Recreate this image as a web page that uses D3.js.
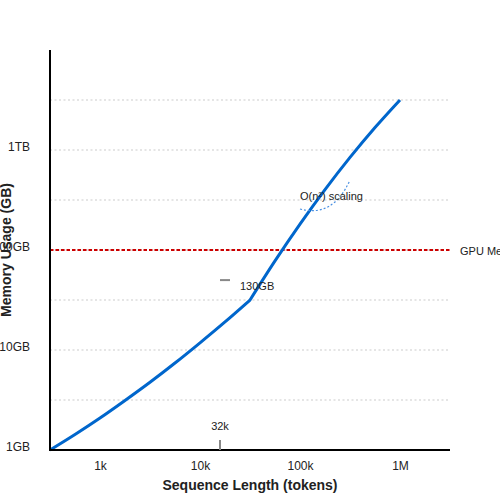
<!DOCTYPE html>
<html>
<head>
<meta charset="utf-8">
<script src="https://cdn.jsdelivr.net/npm/d3@7"></script>
<style>
  body { margin: 0; background: #fff; }
  svg { font-family: "Liberation Sans", Arial, sans-serif; }
</style>
</head>
<body>
<svg id="chart" width="500" height="500"></svg>
<script>
// Data (sequence length in tokens, memory in GB)
const seqLowTokens = [316, 562, 1000, 1778, 3162, 5623, 10000, 17783, 31623];
const memLowGB     = [1, 1.43, 2.09, 3.13, 4.76, 7.41, 11.8, 19.1, 31.6];
const seqHighTokens = [31623, 56234, 100000, 177828, 316228, 562341, 1000000];
const memHighGB     = [31.6, 77.8, 181.6, 401.8, 843, 1679, 3170];
const xTickValues = [1000, 10000, 100000, 1000000];
const xTickLabels = ["1k", "10k", "100k", "1M"];
const yTickValues = [1, 10, 100, 1000];
const yTickLabels = ["1GB", "10GB", "100GB", "1TB"];
const gridValues = [3.162, 10, 31.62, 100, 316.2, 1000, 3162];
const gpuLimitGB = 100;
const gpuLabel = "GPU Memory Limit";
const marker32kTokens = 15850;
const marker32kLabel = "32k";
const marker130Tokens = [15850, 19950];
const marker130GB = 50;
const marker130Label = "130GB";
const scalingLabel = "O(n²) scaling";

const svg = d3.select("#chart");
const x = d3.scaleLog().domain([316.2, 3162000]).range([50, 450]);
const y = d3.scaleLog().domain([1, 10000]).range([450, 50]);

// gridlines
svg.append("g").selectAll("line").data(gridValues).join("line")
  .attr("x1", 50).attr("x2", 448)
  .attr("y1", d => y(d)).attr("y2", d => y(d))
  .attr("stroke", "#dddddd").attr("stroke-width", 1.5)
  .attr("stroke-dasharray", "2,2.5");

// GPU limit
svg.append("line")
  .attr("x1", 50).attr("x2", 450)
  .attr("y1", y(gpuLimitGB)).attr("y2", y(gpuLimitGB))
  .attr("stroke", "#cc0000").attr("stroke-width", 2)
  .attr("stroke-dasharray", "3.5,2");
svg.append("text").attr("x", 460).attr("y", y(gpuLimitGB) + 5)
  .attr("font-size", 11).attr("fill", "#222").text(gpuLabel);

// curves
const line = d3.line().x(d => x(d[0])).y(d => y(d[1])).curve(d3.curveMonotoneX);
const lowPts = seqLowTokens.map((s, i) => [s, memLowGB[i]]);
const highPts = seqHighTokens.map((s, i) => [s, memHighGB[i]]);
svg.append("path").attr("d", line(lowPts) + line(highPts).replace(/^M/, "L"))
  .attr("fill", "none").attr("stroke", "#0066cc").attr("stroke-width", 3);

// axes
const xAxis = svg.append("g").attr("transform", "translate(0,450)")
  .call(d3.axisBottom(x).tickValues(xTickValues).tickFormat((d, i) => xTickLabels[i]).tickSize(0).tickPadding(0));
xAxis.select(".domain").remove();
xAxis.selectAll("text").attr("dy", null).attr("y", 20).attr("font-size", 12)
  .attr("fill", "#222").attr("font-family", "Liberation Sans, Arial, sans-serif");
svg.append("line").attr("x1", 50).attr("x2", 450).attr("y1", 450).attr("y2", 450)
  .attr("stroke", "#000").attr("stroke-width", 2);

const yAxis = svg.append("g").attr("transform", "translate(50,0)")
  .call(d3.axisLeft(y).tickValues(yTickValues).tickFormat((d, i) => yTickLabels[i]).tickSize(0).tickPadding(0));
yAxis.select(".domain").remove();
yAxis.selectAll("text").attr("dy", null).attr("x", -20).attr("font-size", 12)
  .attr("fill", "#222").attr("font-family", "Liberation Sans, Arial, sans-serif");
svg.append("line").attr("x1", 50).attr("x2", 50).attr("y1", 50).attr("y2", 451)
  .attr("stroke", "#000").attr("stroke-width", 2);

// titles
svg.append("text").attr("x", 250).attr("y", 490).attr("text-anchor", "middle")
  .attr("font-size", 14).attr("font-weight", "bold").attr("fill", "#222")
  .text("Sequence Length (tokens)");
svg.append("text").attr("transform", "translate(11,250) rotate(-90)")
  .attr("text-anchor", "middle")
  .attr("font-size", 14).attr("font-weight", "bold").attr("fill", "#222")
  .text("Memory Usage (GB)");

// 32k marker
svg.append("line").attr("x1", x(marker32kTokens)).attr("x2", x(marker32kTokens))
  .attr("y1", 440).attr("y2", 450).attr("stroke", "#888").attr("stroke-width", 2);
svg.append("text").attr("x", x(marker32kTokens)).attr("y", 430).attr("text-anchor", "middle")
  .attr("font-size", 11).attr("fill", "#222").text(marker32kLabel);

// 130GB marker
svg.append("line").attr("x1", x(marker130Tokens[0])).attr("x2", x(marker130Tokens[1]))
  .attr("y1", y(marker130GB)).attr("y2", y(marker130GB))
  .attr("stroke", "#888").attr("stroke-width", 2);
svg.append("text").attr("x", 240).attr("y", 290)
  .attr("font-size", 11).attr("fill", "#222").text(marker130Label);

// scaling annotation
svg.append("path").attr("d", "M300,209 Q333,218 350,180")
  .attr("fill", "none").attr("stroke", "#4a90e2").attr("stroke-width", 1.2)
  .attr("stroke-dasharray", "2,2");
svg.append("text").attr("x", 300).attr("y", 200)
  .attr("font-size", 11).attr("fill", "#222").text(scalingLabel);
</script>
</body>
</html>
